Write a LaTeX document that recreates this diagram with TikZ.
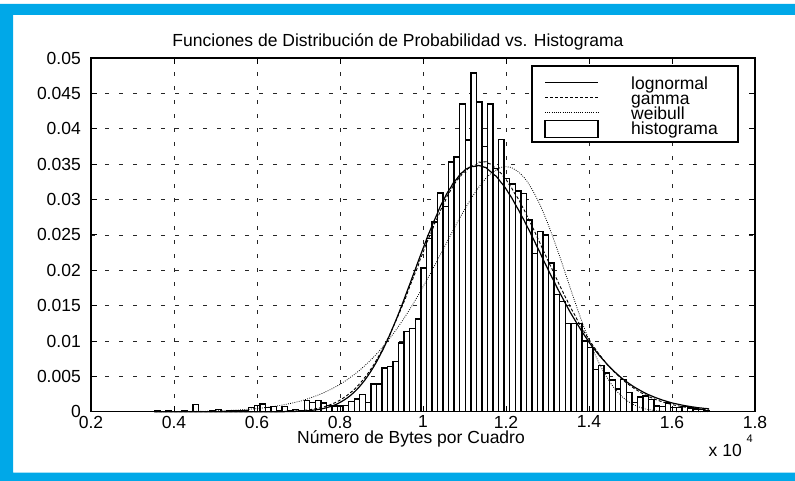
\documentclass[tikz,border=0pt]{standalone}
\usepackage{fontspec}
\setmainfont{Liberation Sans}
\definecolor{marco}{RGB}{0,168,232}
\begin{document}
\begin{tikzpicture}[x=1pt,y=-1pt]
\tikzstyle{every node}=[font=\fontsize{17.5}{20}\selectfont,inner sep=0pt]
\tikzstyle{rejilla}=[black!85,line width=0.7pt,dash pattern=on 4pt off 10pt]
\tikzstyle{barra}=[draw=black,fill=white,line width=1.4pt]
\tikzstyle{eje}=[black,line width=1.5pt]
\tikzstyle{marca}=[black,line width=0.9pt]
\tikzstyle{lognormal}=[black,line width=1.2pt]
\tikzstyle{gamma}=[black,line width=0.9pt,dash pattern=on 3pt off 2pt]
\tikzstyle{weibull}=[black,line width=0.8pt,dash pattern=on 0.8pt off 1.4pt]
\useasboundingbox (0,0) rectangle (795,481);
\fill[white] (0,0) rectangle (795,481);
\fill[marco,even odd rule] (0,4) rectangle (795,481) (13,15) rectangle (795,472.7);
% textos
\node (titulo) at (398,42) {Funciones de Distribución de Probabilidad vs. Histograma};
\node (etiqx) at (411,439) {Número de Bytes por Cuadro};
\node[anchor=base east] (escala) at (742,456.5) {x 10};
\node[anchor=base west,font=\fontsize{11}{12}\selectfont] (expo) at (746.5,442) {4};
\begin{scope}[shift={(8,411.7)},x=415pt,y=7074pt]
% rejilla
\foreach \t in {0.4,0.6,0.8,1.0,1.2,1.4,1.6}
  \draw[rejilla] (\t,0) -- (\t,0.05);
\foreach \v in {0.005,0.01,0.015,0.02,0.025,0.03,0.035,0.04,0.045}
  \draw[rejilla] (0.2,\v) -- (1.8,\v);
% histograma
\foreach \h [count=\i from 0] in {0.0001,0,0.0001,0,0,0.0001,0,0.00104,0,0,
  0.0001,0.0003,0,0.0001,0.0001,0.0002,0.0001,0.0006,0.0009,0.0011,
  0.0006,0.0007,0.0002,0.0007,0.0001,0.0003,0.0002,0.0016,0.0013,0.0016,
  0.0012,0.0009,0.0008,0.0008,0.0009,0.0014,0.0018,0.0024,0.0013,0.0039,
  0.0039,0.0062,0.0064,0.0071,0.0097,0.0113,0.0118,0.0131,0.0203,0.0245,
  0.0268,0.0309,0.0290,0.0353,0.0360,0.0435,0.0384,0.0479,0.0438,0.0375,
  0.0435,0.0344,0.0385,0.0330,0.0322,0.0312,0.0308,0.0271,0.0224,0.0255,
  0.0250,0.0210,0.0166,0.0156,0.0125,0.0125,0.0125,0.0100,0.0091,0.0060,
  0.0065,0.0055,0.0045,0.0032,0.0046,0.0027,0.0013,0.0021,0.0022,0.0017,
  0.0008,0.0007,0.0012,0.0006,0.0006,0.0007,0.0005,0.0004,0.0003,0.0002}
  \draw[barra] ({0.3525+\i*0.013375},0) rectangle ({0.3525+(\i+1)*0.013375},\h);
% curvas ajustadas
\draw[weibull] plot[domain=0.3525:1.69,samples=220,smooth]
  (\x,{0.0346*exp(7.5*ln(\x/1.2)-(exp(8.5*ln(\x/1.2178))-0.88235))});
\draw[gamma] plot[domain=0.3525:1.69,samples=220,smooth]
  (\x,{0.0354*exp(54.8*ln(\x/1.14)-(\x-1.14)/0.0208)});
\draw[lognormal] plot[domain=0.3525:1.69,samples=220,smooth]
  (\x,{0.03968/\x*exp(-((ln(\x)-0.14044)^2)/0.03645)});
% ejes y marcas
\draw[eje] (0.2,0) rectangle (1.8,0.05);
\foreach \t/\lab in {0.2/0.2,0.4/0.4,0.6/0.6,0.8/0.8,1.0/1,1.2/1.2,1.4/1.4,1.6/1.6,1.8/1.8}{
  \draw[marca] (\t,0) -- ++(0,6pt) (\t,0.05) -- ++(0,-6pt);
  \node[anchor=north,yshift=-4pt] (tx\lab) at (\t,0) {\lab};
}
\foreach \v in {0,0.005,0.01,0.015,0.02,0.025,0.03,0.035,0.04,0.045,0.05}{
  \draw[marca] (0.2,\v) -- ++(6pt,0) (1.8,\v) -- ++(-6pt,0);
  \node[anchor=east,xshift=-10pt] (ty\v) at (0.2,\v) {\v};
}
\end{scope}
% leyenda
\draw[fill=white,line width=1.6pt] (532,66) rectangle (738,142);
\coordinate (la) at (545,82.3);  \coordinate (lb) at (598,82.3);
\coordinate (ga) at (545,97.7);  \coordinate (gb) at (598,97.7);
\coordinate (wa) at (545,112.3); \coordinate (wb) at (598,112.3);
\draw[lognormal] (la) -- (lb);
\draw[gamma] (ga) -- (gb);
\draw[weibull] (wa) -- (wb);
\draw[barra] (545,120.7) rectangle (598,137.3);
\node[anchor=base west] (tlog) at (631,89.5) {lognormal};
\node[anchor=base west] (tgam) at (631,104.4) {gamma};
\node[anchor=base west] (twei) at (631,119.3) {weibull};
\node[anchor=base west] (this) at (631,134.2) {histograma};
\end{tikzpicture}
\end{document}
